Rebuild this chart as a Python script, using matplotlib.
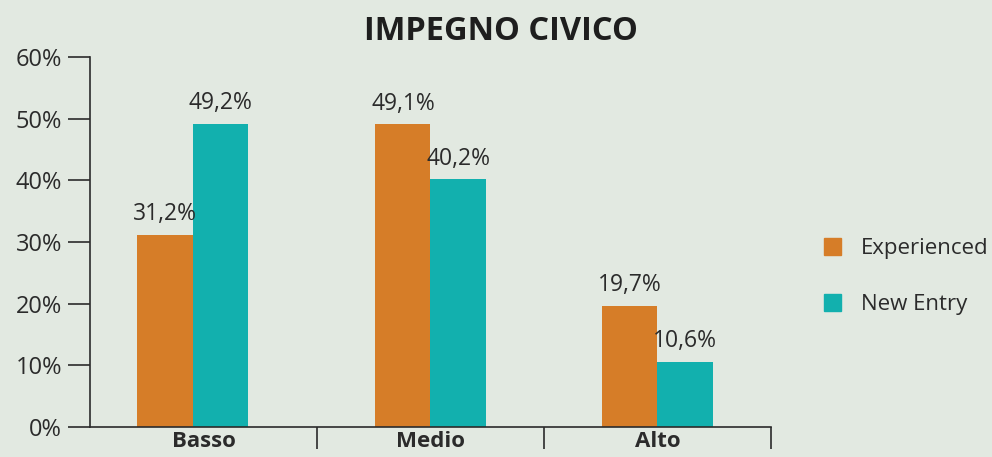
import matplotlib.pyplot as plt
from matplotlib.patches import Patch
import numpy as np

categorie = ["Basso", "Medio", "Alto"]
experienced = [31.2, 49.1, 19.7]
new_entry = [49.2, 40.2, 10.6]
tick_valori = [0, 10, 20, 30, 40, 50, 60]

sfondo = "#e2e9e1"
arancio = "#d67d28"
turchese = "#12b0ae"
scuro = "#2b2b2b"

plt.rcParams['font.family'] = ['Open Sans', 'DejaVu Sans']

fig = plt.figure(figsize=(9.92, 4.57), dpi=100, facecolor=sfondo)
ax = fig.add_axes([0.0907, 0.0656, 0.6865, 0.8094])
ax.set_facecolor(sfondo)

x = np.arange(len(categorie))
# il primo gruppo nel riferimento e' un po' spostato a sinistra
spost = np.array([-0.048, 0.0, 0.0])
larg = 0.243
b1 = ax.bar(x + spost - larg / 2, experienced, larg, color=arancio, label="Experienced")
b2 = ax.bar(x + spost + larg / 2, new_entry, larg, color=turchese, label="New Entry")

def etichette(barre, valori):
    for r, v in zip(barre, valori):
        ax.annotate(f"{v:.1f}%".replace(".", ","),
                    (r.get_x() + r.get_width() / 2, r.get_height()),
                    xytext=(0, 6), textcoords="offset points",
                    ha="center", va="bottom", fontsize=16.5, color=scuro)

etichette(b1, experienced)
etichette(b2, new_entry)

ax.set_xlim(-0.5, 2.5)
ax.set_ylim(0, 60)
ax.set_yticks(tick_valori)
ax.set_yticklabels([f"{v}%" for v in tick_valori], fontsize=17, color=scuro)
ax.set_xticks(x)
ax.set_xticklabels(categorie, fontsize=16, fontweight="bold", color=scuro)
ax.set_xticks([0.5, 1.5, 2.5], minor=True)

ax.tick_params(axis="y", length=16, width=1.2, color=scuro, pad=4)
ax.tick_params(axis="x", which="major", length=0, pad=3)
ax.tick_params(axis="x", which="minor", length=16, width=1.2, color=scuro)

for s in ["top", "right"]:
    ax.spines[s].set_visible(False)
for s in ["left", "bottom"]:
    ax.spines[s].set_color(scuro)
    ax.spines[s].set_linewidth(1.2)

fig.text(0.505, 0.93, "IMPEGNO CIVICO", ha="center", va="center",
         fontsize=23.5, fontweight="bold", color="#1e1e1e")

maniglie = [Patch(color=arancio, label="Experienced"),
            Patch(color=turchese, label="New Entry")]
fig.legend(handles=maniglie, loc="center left", bbox_to_anchor=(0.81, 0.395),
           frameon=False, fontsize=16, handlelength=0.8, handleheight=0.8,
           handletextpad=0.9, labelspacing=1.55, labelcolor=scuro)

plt.savefig("out.png", dpi=100, facecolor=sfondo)
